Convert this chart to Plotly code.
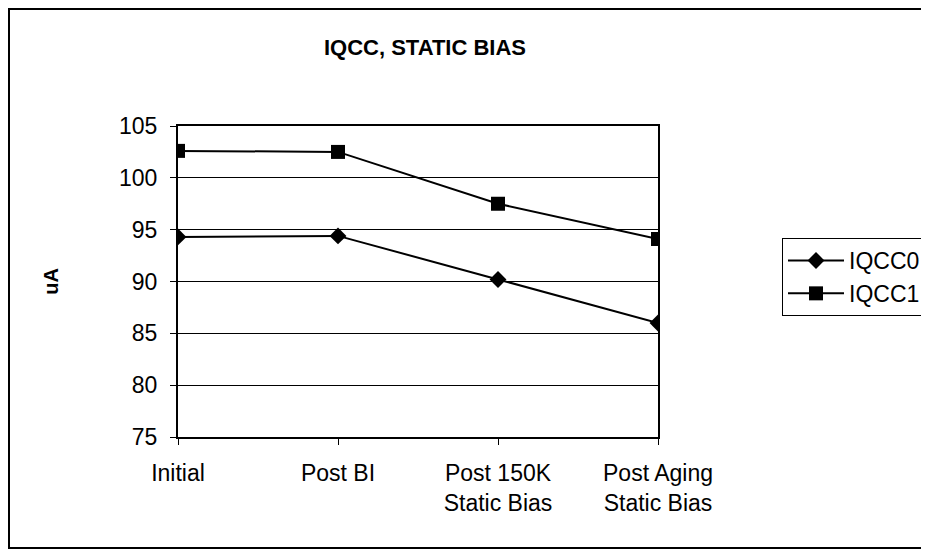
import plotly.graph_objects as go

categories = ["Initial", "Post BI", "Post 150K<br>Static Bias", "Post Aging<br>Static Bias"]
iqcc0 = [94.3, 94.4, 90.2, 86.0]
iqcc1 = [102.6, 102.5, 97.5, 94.1]
y_ticks = [75, 80, 85, 90, 95, 100, 105]

# figure coords (page has 8px body margin)
W, H = 921, 542
L, R, T, B = 170, 650, 118, 429

def px_x(x):
    return (x - L) / (R - L)

def px_y(y):
    return (B - y) / (B - T)

FONT = "Liberation Sans, Arial"

fig = go.Figure()
fig.add_trace(go.Scatter(x=categories, y=iqcc0, name="IQCC0", mode="lines+markers",
                         line=dict(color="black", width=2),
                         marker=dict(symbol="diamond", size=13, color="black")))
fig.add_trace(go.Scatter(x=categories, y=iqcc1, name="IQCC1", mode="lines+markers",
                         line=dict(color="black", width=2),
                         marker=dict(symbol="square", size=14, color="black")))

fig.update_layout(
    width=W, height=H,
    margin=dict(l=L, r=W - R, t=T, b=H - B, pad=0, autoexpand=False),
    paper_bgcolor="white", plot_bgcolor="white",
    font=dict(family=FONT, size=23, color="black"),
    title=dict(text="<b>IQCC, STATIC BIAS</b>", x=417 / W, xanchor="center",
               y=1 - 39 / H, yanchor="middle",
               font=dict(size=22, color="black")),
    xaxis=dict(range=[0, 3], type="category", showgrid=False, showline=True,
               linecolor="black", linewidth=2, mirror=True, ticks="outside",
               ticklen=6, tickcolor="black", tickfont=dict(size=23),
               ticklabelstandoff=8),
    yaxis=dict(range=[75, 105], tickvals=y_ticks, showgrid=True, gridcolor="black",
               gridwidth=1, showline=True, linecolor="black", linewidth=2, mirror=True,
               ticks="outside", ticklen=6, tickcolor="black", tickfont=dict(size=23),
               ticklabelstandoff=8, zeroline=False,
               title=dict(text="<b>uA</b>", font=dict(size=20), standoff=55)),
    legend=dict(x=px_x(774), y=px_y(230), xanchor="left", yanchor="top",
                bordercolor="black", borderwidth=1, bgcolor="white",
                font=dict(size=23), itemwidth=56, tracegroupgap=6),
    shapes=[dict(type="rect", xref="paper", yref="paper",
                 x0=px_x(1), x1=px_x(930), y0=px_y(540), y1=px_y(1),
                 line=dict(color="black", width=2))],
    showlegend=True,
)

fig.write_html("out.html")
